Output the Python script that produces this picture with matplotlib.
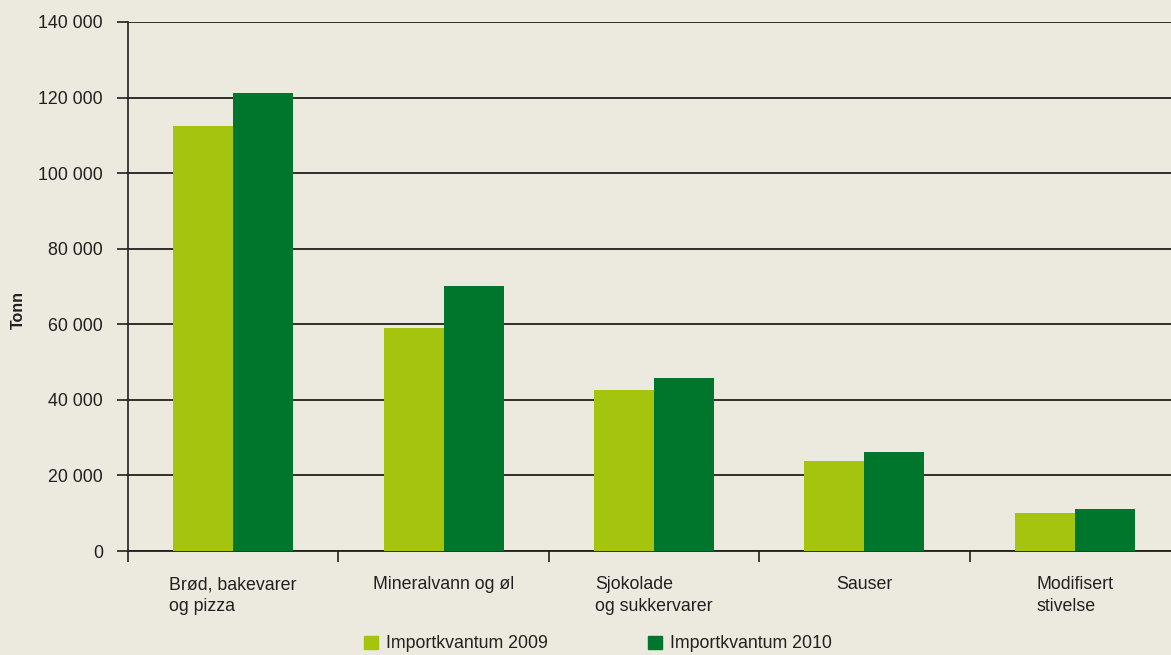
import matplotlib
matplotlib.use("Agg")
import matplotlib.pyplot as plt
from matplotlib.ticker import FuncFormatter, FixedLocator
from matplotlib.patches import Patch
import numpy as np

# data (tonn)
categories = ["Brød, bakevarer\nog pizza", "Mineralvann og øl", "Sjokolade\nog sukkervarer",
              "Sauser", "Modifisert\nstivelse"]
import_2009 = [112500, 59100, 42600, 23900, 10100]
import_2010 = [121300, 70100, 45900, 26100, 11200]
series_labels = ["Importkvantum 2009", "Importkvantum 2010"]

bg = "#ECE9DE"
light_green = "#A4C40E"
dark_green = "#00752C"
ink = "#231F20"
fs = 12.8

plt.rcParams["font.family"] = ["Liberation Sans", "DejaVu Sans"]

fig = plt.figure(figsize=(11.71, 6.55), dpi=100, facecolor=bg)
ax = fig.add_axes([128 / 1171, 1 - 551 / 655, 1052 / 1171, 529 / 655], facecolor=bg)

x = np.arange(len(categories))
w = 0.285
ax.bar(x - w / 2, import_2009, width=w, color=light_green, zorder=3)
ax.bar(x + w / 2, import_2010, width=w, color=dark_green, zorder=3)

ax.set_xlim(-0.5, len(categories) - 0.5)
ax.set_ylim(0, 140000)
ax.set_yticks(np.arange(0, 140001, 20000))
ax.yaxis.set_major_formatter(FuncFormatter(lambda v, p: f"{v:,.0f}".replace(",", " ")))
ax.grid(axis="y", color=ink, linewidth=1.3, zorder=1)
ax.tick_params(axis="y", length=8, width=1.2, color=ink, pad=10, labelsize=fs, labelcolor=ink)

# category boundaries get the ticks, centres get the labels
ax.xaxis.set_major_locator(FixedLocator(np.arange(-0.5, len(categories), 1.0)))
ax.xaxis.set_minor_locator(FixedLocator(x))
ax.set_xticklabels([])
ax.set_xticklabels(categories, minor=True)
for lbl in ax.get_xticklabels(minor=True):
    lbl.set_multialignment("left")
    lbl.set_linespacing(1.35)
ax.tick_params(axis="x", which="major", length=8, width=1.2, color=ink)
ax.tick_params(axis="x", which="minor", length=0, pad=18, labelsize=fs, labelcolor=ink)

for side in ["top", "right"]:
    ax.spines[side].set_visible(False)
ax.spines["left"].set_color(ink)
ax.spines["bottom"].set_color(ink)
ax.spines["left"].set_linewidth(1.2)
ax.spines["bottom"].set_linewidth(1.3)

fig.text(18 / 1171, 1 - 310 / 655, "Tonn", rotation=90, ha="center", va="center",
         fontsize=11.5, fontweight="bold", color=ink)

handles = [Patch(color=light_green), Patch(color=dark_green)]
fig.legend(handles, series_labels, loc="center left", bbox_to_anchor=(364 / 1171, 1 - 644 / 655),
           ncol=2, frameon=False, fontsize=fs, handlelength=0.8, handleheight=0.8,
           handletextpad=0.45, columnspacing=5.6, borderpad=0, borderaxespad=0, labelcolor=ink)

fig.savefig("out.png", dpi=100, facecolor=bg)
